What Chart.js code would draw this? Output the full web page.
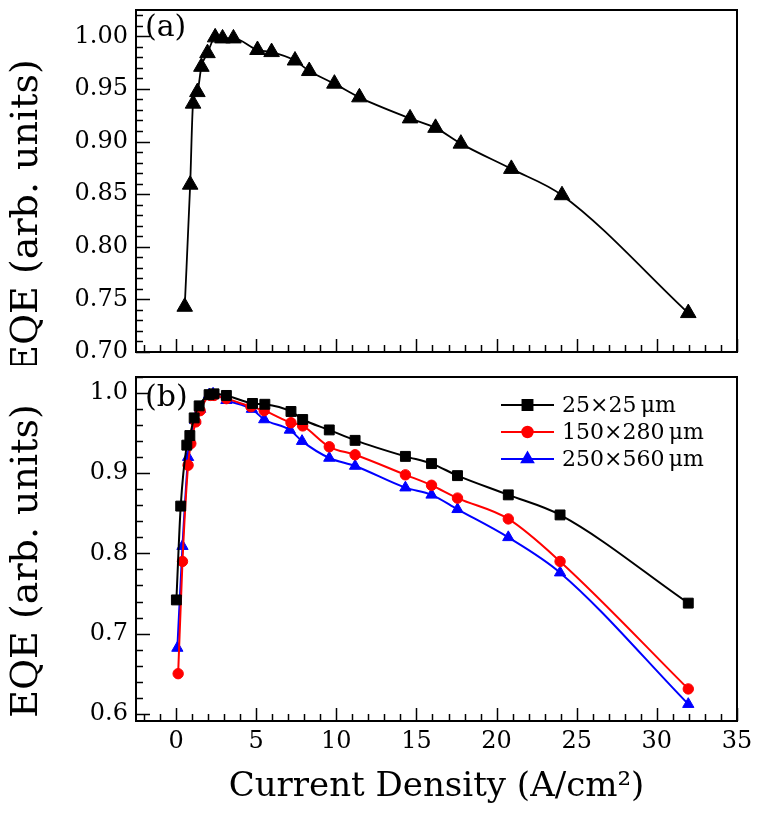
<!DOCTYPE html>
<html><head><meta charset="utf-8">
<script src="https://cdn.jsdelivr.net/npm/chart.js@4.4.0/dist/chart.umd.min.js"></script>
<style>
html,body{margin:0;padding:0;background:#fff;}
#wrap{position:relative;width:763px;height:813px;background:#fff;}
canvas{position:absolute;left:0;}
</style></head><body>
<div id="wrap">
<canvas id="ca" width="763" height="365" style="top:0px"></canvas>
<canvas id="cb" width="763" height="448" style="top:365px"></canvas>
</div>
<script>
// ---------- data ----------
// Panel (a)
const jA   = [0.54, 0.88, 1.06, 1.33, 1.58, 1.96, 2.44, 2.90, 3.58, 5.08, 5.96, 7.42, 8.31, 9.88, 11.44, 14.60, 16.19, 17.77, 20.92, 24.08, 31.96];
const eqeA = [0.743, 0.859, 0.936, 0.947, 0.971, 0.984, 0.999, 0.998, 0.998, 0.987, 0.985, 0.977, 0.967, 0.955, 0.942, 0.922, 0.913, 0.898, 0.874, 0.849, 0.737];
// Panel (b)
const j25    = [0.02, 0.29, 0.67, 0.86, 1.13, 1.44, 2.06, 2.37, 3.14, 4.77, 5.54, 7.17, 7.90, 9.56, 11.17, 14.31, 15.94, 17.56, 20.73, 23.96, 31.96];
const eqe25  = [0.742, 0.859, 0.935, 0.947, 0.969, 0.984, 0.998, 0.999, 0.997, 0.987, 0.986, 0.977, 0.967, 0.954, 0.941, 0.921, 0.912, 0.897, 0.873, 0.848, 0.738];
const j150   = [0.13, 0.40, 0.75, 0.92, 1.23, 1.50, 2.13, 2.37, 3.14, 4.67, 5.50, 7.17, 7.90, 9.56, 11.17, 14.31, 15.94, 17.56, 20.73, 23.96, 31.96];
const eqe150 = [0.650, 0.790, 0.910, 0.937, 0.964, 0.978, 0.997, 0.997, 0.993, 0.983, 0.978, 0.963, 0.959, 0.933, 0.923, 0.898, 0.885, 0.869, 0.843, 0.790, 0.631];
const j250   = [0.08, 0.40, 0.75, 0.86, 1.19, 1.50, 2.06, 2.31, 3.14, 4.73, 5.50, 7.10, 7.86, 9.56, 11.17, 14.31, 15.94, 17.56, 20.73, 23.96, 31.96];
const eqe250 = [0.682, 0.809, 0.920, 0.942, 0.966, 0.980, 0.998, 0.999, 0.991, 0.980, 0.967, 0.954, 0.940, 0.919, 0.909, 0.882, 0.873, 0.855, 0.820, 0.776, 0.612];
const seriesLabels = ['25×25\u2009μm', '150×280\u2009μm', '250×560\u2009μm'];
// ---------- ticks ----------
const xTickLabels  = ['0', '5', '10', '15', '20', '25', '30', '35'];
const yTickLabelsA = ['0.70', '0.75', '0.80', '0.85', '0.90', '0.95', '1.00'];
const yTickLabelsB = ['0.6', '0.7', '0.8', '0.9', '1.0'];
const xMinorStep = 1, yMinorStepA = 0.01, yMinorStepB = 0.02;
const xTitle = 'Current Density (A/cm\u00B2)';
const yTitle = 'EQE (arb. units)';

const FONT = "'DejaVu Serif', serif";
Chart.defaults.color = '#000';
Chart.defaults.font.family = FONT;

function pts(xs, ys) { return xs.map((x, i) => ({x: x, y: ys[i]})); }

function makeTicks(min, max, step, majorLabels) {
  const majors = majorLabels.map(Number);
  const out = [];
  const n0 = Math.ceil(min / step - 1e-6), n1 = Math.floor(max / step + 1e-6);
  for (let n = n0; n <= n1; n++) {
    const v = Math.round(n * step * 1000) / 1000;
    const k = majors.findIndex(m => Math.abs(m - v) < 1e-6);
    out.push({value: v, mj: k >= 0, lab: k >= 0 ? majorLabels[k] : ''});
  }
  return out;
}

const frameTicks = {
  id: 'frameTicks',
  afterDatasetsDraw(chart, args, opts) {
    const {ctx, chartArea: a} = chart;
    const xs = chart.scales.x, ys = chart.scales.y;
    ctx.save();
    ctx.strokeStyle = '#000';
    ctx.lineWidth = 1.5;
    ctx.beginPath();
    xs.ticks.forEach(t => {
      const p = Math.round(xs.getPixelForValue(t.value)) + 0.5;
      const L = t.mj ? 13 : 7;
      ctx.moveTo(p, a.bottom); ctx.lineTo(p, a.bottom - L);
    });
    ys.ticks.forEach(t => {
      const p = Math.round(ys.getPixelForValue(t.value)) + 0.5;
      const L = t.mj ? 14 : 7;
      ctx.moveTo(a.left, p); ctx.lineTo(a.left + L, p);
    });
    ctx.stroke();
    ctx.lineWidth = 2;
    ctx.strokeRect(a.left, a.top, a.right - a.left, a.bottom - a.top);
    ctx.fillStyle = '#000';
    // panel label
    ctx.font = '30px ' + FONT;
    ctx.textBaseline = 'middle';
    ctx.textAlign = 'left';
    ctx.fillText(opts.text, a.left + 9, a.top + opts.dy);
    // y-axis title
    ctx.save();
    ctx.font = '38px ' + FONT;
    ctx.textAlign = 'center';
    ctx.translate(27, (a.top + a.bottom) / 2 + opts.titleShift);
    ctx.rotate(-Math.PI / 2);
    ctx.fillText(yTitle, 0, 0);
    ctx.restore();
    if (opts.legend) {
      const ds = chart.data.datasets;
      ctx.font = '22px ' + FONT;
      ds.forEach((d, i) => {
        const y = a.top + 28 + i * 27;
        const x0 = a.left + 365, x1 = a.left + 418, xm = (x0 + x1) / 2;
        ctx.strokeStyle = d.borderColor; ctx.lineWidth = 2;
        ctx.beginPath(); ctx.moveTo(x0, y); ctx.lineTo(x1, y); ctx.stroke();
        Chart.helpers.drawPoint(ctx, {pointStyle: d.pointStyle, radius: d.pointRadius, borderWidth: 1}, xm, y);
        ctx.fillStyle = d.borderColor; ctx.fill();
        ctx.fillStyle = '#000';
        ctx.fillText(d.label, x1 + 8, y + 1);
      });
    }
    ctx.restore();
  }
};

function xScale(showLabels, h) {
  return {
    type: 'linear', min: -2.5, max: 35,
    grid: {display: false, drawTicks: false, tickLength: 0},
    border: {display: false},
    afterBuildTicks: s => { s.ticks = makeTicks(-2.5, 35, xMinorStep, xTickLabels); },
    afterFit: s => { s.height = h; s.paddingLeft = 0; s.paddingRight = 0; s.paddingTop = 0; s.paddingBottom = 0; },
    ticks: {display: showLabels, autoSkip: false, maxRotation: 0, padding: 6,
      font: {size: 24, family: FONT},
      callback: (v, i, t) => t[i].lab},
    title: showLabels ? {display: true, text: xTitle, font: {size: 34, family: FONT}, padding: {top: 0, bottom: 5}} : {display: false}
  };
}
function yScale(min, max, step, labels) {
  return {
    type: 'linear', min: min, max: max,
    grid: {display: false, drawTicks: false, tickLength: 0},
    border: {display: false},
    afterBuildTicks: s => { s.ticks = makeTicks(min, max, step, labels); },
    afterFit: s => { s.width = 136; s.paddingLeft = 0; s.paddingRight = 0; s.paddingTop = 0; s.paddingBottom = 0; },
    ticks: {autoSkip: false, padding: 8, font: {size: 24, family: FONT},
      callback: (v, i, t) => t[i].lab},
    title: {display: false}
  };
}

new Chart(document.getElementById('ca'), {
  type: 'line',
  data: {datasets: [{
    label: 'a', data: pts(jA, eqeA), borderColor: '#000', backgroundColor: '#000',
    borderWidth: 1.8, pointStyle: 'triangle', pointRadius: 9, pointBorderWidth: 1,
    cubicInterpolationMode: 'monotone'
  }]},
  options: {
    responsive: false, animation: false, events: [],
    layout: {padding: {left: 0, right: 26, top: 10, bottom: 0}},
    scales: {x: xScale(false, 13), y: yScale(0.70, 1.025, yMinorStepA, yTickLabelsA)},
    plugins: {legend: {display: false}, tooltip: {enabled: false},
      frameTicks: {text: '(a)', dy: 18, legend: false, titleShift: 35}}
  },
  plugins: [frameTicks]
});

new Chart(document.getElementById('cb'), {
  type: 'line',
  data: {datasets: [
    {label: seriesLabels[0], data: pts(j25, eqe25), borderColor: '#000', backgroundColor: '#000',
     borderWidth: 2, pointStyle: 'rect', pointRadius: 7, pointBorderWidth: 1, cubicInterpolationMode: 'monotone'},
    {label: seriesLabels[1], data: pts(j150, eqe150), borderColor: '#ff0000', backgroundColor: '#ff0000',
     borderWidth: 2, pointStyle: 'circle', pointRadius: 5.2, pointBorderWidth: 1, cubicInterpolationMode: 'monotone'},
    {label: seriesLabels[2], data: pts(j250, eqe250), borderColor: '#0000ff', backgroundColor: '#0000ff',
     borderWidth: 2, pointStyle: 'triangle', pointRadius: 6.5, pointBorderWidth: 1, cubicInterpolationMode: 'monotone'}
  ]},
  options: {
    responsive: false, animation: false, events: [],
    layout: {padding: {left: 0, right: 26, top: 12, bottom: 0}},
    scales: {x: xScale(true, 92), y: yScale(0.591, 1.02, yMinorStepB, yTickLabelsB)},
    plugins: {legend: {display: false}, tooltip: {enabled: false},
      frameTicks: {text: '(b)', dy: 21, legend: true, titleShift: 12}}
  },
  plugins: [frameTicks]
});
</script>
</body></html>
